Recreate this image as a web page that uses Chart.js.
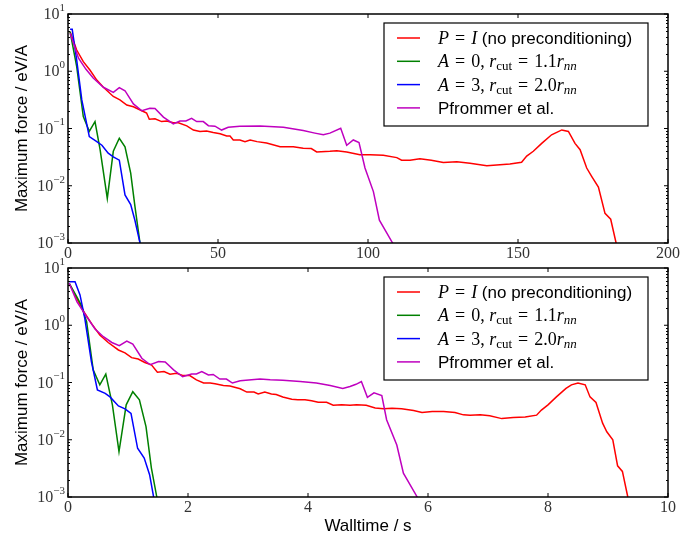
<!DOCTYPE html>
<html>
<head>
<meta charset="utf-8">
<script src="https://cdn.jsdelivr.net/npm/chart.js@4.4.1/dist/chart.umd.min.js"></script>
<style>
  body { margin: 0; background: white; }
  #wrap { position: relative; width: 693px; height: 535px; }
  #wrap canvas { position: absolute; left: 0; top: 0; }
</style>
</head>
<body>
<div id="wrap">
  <canvas id="top" width="693" height="535"></canvas>
  <canvas id="bottom" width="693" height="535"></canvas>
</div>
<script>
// top panel: walltime in arbitrary units 0..200
const topRedX = [0.7, 2.9, 5.1, 7.3, 9.6, 11.8, 15.1, 17.3, 19.6, 21.8, 24.6, 26.2, 27.1, 29, 31.2, 32.9, 35.1, 36.8, 39.6, 41.8, 44, 46.2, 48.4, 50.7, 52.9, 54, 55.1, 57.3, 59, 60.7, 63, 66.2, 70.7, 75.1, 78.4, 81.1, 82.9, 87.3, 89.6, 92.9, 97.3, 100.7, 105.1, 109.6, 111.2, 114, 117.3, 121.1, 125.1, 129.6, 134, 139.6, 147.3, 151.2, 152.9, 155.1, 157.9, 161.2, 164.6, 166.8, 169, 170.7, 172.9, 174.6, 176.8, 179, 180.9, 182.7, 183.5];
const topRedY = [4.9, 2.35, 1.47, 1.05, 0.70, 0.525, 0.363, 0.316, 0.257, 0.24, 0.204, 0.186, 0.145, 0.148, 0.132, 0.135, 0.126, 0.126, 0.111, 0.094, 0.089, 0.090, 0.085, 0.081, 0.074, 0.074, 0.063, 0.063, 0.059, 0.063, 0.059, 0.056, 0.048, 0.048, 0.045, 0.0447, 0.039, 0.040, 0.041, 0.039, 0.0347, 0.0347, 0.034, 0.031, 0.028, 0.028, 0.0295, 0.028, 0.0254, 0.0263, 0.0248, 0.0224, 0.024, 0.0257, 0.033, 0.040, 0.055, 0.0776, 0.0944, 0.089, 0.055, 0.0427, 0.0204, 0.0145, 0.0095, 0.0033, 0.0026, 0.001, 0.0006];
const topGreenX = [0.7, 2.9, 5.1, 7.1, 9, 10.7, 13.1, 15.1, 17.1, 19, 20.9, 22.3, 24, 24.6];
const topGreenY = [4.9, 1.2, 0.162, 0.089, 0.132, 0.0427, 0.006, 0.040, 0.0676, 0.048, 0.0166, 0.0044, 0.001, 0.0006];
const topBlueX = [0.7, 1.4, 2.9, 4.6, 7.1, 9.6, 11.3, 13.4, 15.1, 17.1, 19, 20.9, 22.3, 24, 24.5];
const topBlueY = [5.4, 5.4, 1.57, 0.316, 0.072, 0.059, 0.051, 0.037, 0.032, 0.028, 0.0069, 0.0047, 0.0025, 0.001, 0.0006];
const topMagX = [0.7, 3.5, 6, 8.4, 11.8, 15.1, 17.1, 19, 21.8, 24.6, 27.3, 29, 31.8, 35.1, 37.3, 39.3, 41.2, 42.9, 45.1, 46.8, 49, 51.2, 53.4, 57.3, 64, 71.8, 78.4, 82.3, 85.1, 87.3, 90.9, 92.9, 95.1, 97, 99, 101.8, 103.8, 108.2, 109];
const topMagY = [4.6, 1.69, 1.08, 0.76, 0.525, 0.427, 0.519, 0.457, 0.269, 0.204, 0.226, 0.224, 0.158, 0.12, 0.135, 0.135, 0.151, 0.132, 0.132, 0.112, 0.11, 0.094, 0.105, 0.11, 0.111, 0.105, 0.092, 0.083, 0.0776, 0.083, 0.101, 0.051, 0.063, 0.057, 0.0204, 0.0079, 0.0025, 0.001, 0.0008];

// bottom panel: walltime in seconds 0..10
const botRedX = [0.02, 0.145, 0.28, 0.39, 0.53, 0.67, 0.84, 0.95, 1.06, 1.17, 1.28, 1.39, 1.49, 1.6, 1.7, 1.81, 1.92, 2.03, 2.14, 2.26, 2.37, 2.45, 2.59, 2.7, 2.87, 2.98, 3.1, 3.17, 3.28, 3.39, 3.47, 3.58, 3.73, 3.83, 3.95, 4.06, 4.17, 4.31, 4.42, 4.56, 4.7, 4.81, 4.97, 5.12, 5.26, 5.4, 5.56, 5.76, 5.9, 6.07, 6.26, 6.45, 6.59, 6.7, 6.87, 7.03, 7.23, 7.42, 7.62, 7.81, 7.89, 8.0, 8.14, 8.3, 8.39, 8.5, 8.62, 8.7, 8.8, 8.91, 8.98, 9.08, 9.16, 9.24, 9.33, 9.38];
const botRedY = [5.4, 2.95, 1.62, 1.08, 0.676, 0.50, 0.37, 0.33, 0.272, 0.257, 0.224, 0.204, 0.151, 0.155, 0.14, 0.145, 0.132, 0.132, 0.111, 0.098, 0.098, 0.095, 0.089, 0.087, 0.0776, 0.068, 0.068, 0.063, 0.068, 0.063, 0.0617, 0.056, 0.051, 0.050, 0.050, 0.048, 0.045, 0.045, 0.040, 0.041, 0.040, 0.041, 0.040, 0.036, 0.0347, 0.0355, 0.0347, 0.0324, 0.030, 0.031, 0.031, 0.030, 0.0272, 0.0269, 0.0272, 0.0263, 0.0234, 0.0245, 0.025, 0.0269, 0.033, 0.0407, 0.056, 0.079, 0.091, 0.098, 0.091, 0.056, 0.0447, 0.0195, 0.0138, 0.010, 0.0035, 0.0028, 0.001, 0.0006];
const botGreenX = [0.02, 0.145, 0.22, 0.31, 0.42, 0.53, 0.63, 0.74, 0.85, 0.97, 1.08, 1.19, 1.3, 1.39, 1.48, 1.5];
const botGreenY = [5.4, 3.16, 2.26, 1.16, 0.166, 0.091, 0.14, 0.0407, 0.0062, 0.0407, 0.069, 0.050, 0.017, 0.0032, 0.001, 0.0007];
const botBlueX = [0.02, 0.117, 0.2, 0.28, 0.39, 0.49, 0.62, 0.7, 0.84, 0.95, 1.05, 1.16, 1.27, 1.36, 1.42, 1.45];
const botBlueY = [5.75, 5.75, 3.39, 1.32, 0.232, 0.074, 0.0646, 0.056, 0.039, 0.0347, 0.0288, 0.0071, 0.0048, 0.00245, 0.0011, 0.0007];
const botMagX = [0.02, 0.15, 0.31, 0.45, 0.59, 0.73, 0.855, 0.98, 1.08, 1.23, 1.37, 1.51, 1.62, 1.76, 1.91, 2.06, 2.14, 2.23, 2.34, 2.42, 2.53, 2.64, 2.74, 2.87, 3.2, 3.37, 3.58, 3.87, 4.14, 4.37, 4.58, 4.7, 4.8, 4.89, 4.99, 5.1, 5.23, 5.31, 5.48, 5.59, 5.82, 5.86];
const botMagY = [5.4, 2.57, 1.41, 0.86, 0.63, 0.50, 0.44, 0.53, 0.468, 0.265, 0.204, 0.232, 0.229, 0.166, 0.126, 0.141, 0.141, 0.155, 0.135, 0.138, 0.115, 0.115, 0.098, 0.107, 0.115, 0.112, 0.11, 0.104, 0.098, 0.089, 0.079, 0.085, 0.093, 0.104, 0.055, 0.066, 0.059, 0.0224, 0.0081, 0.0026, 0.001, 0.0008];

const topXTicks = [0, 50, 100, 150, 200];
const botXTicks = [0, 2, 4, 6, 8, 10];
const yTicks = [1e-3, 1e-2, 1e-1, 1e0, 1e1];

const seriesColors = ['#ff0000', '#008000', '#0000ff', '#bf00bf'];
const seriesLabels = ['P = I (no preconditioning)', 'A = 0, r_cut = 1.1r_nn', 'A = 3, r_cut = 2.0r_nn', 'Pfrommer et al.'];
// legend text pieces: i = math italic, r = roman, s = sans, eq = spaced "=", bi/br = subscript
const legendParts = [
  [['P', 'i'], ['=', 'eq'], ['I', 'i'], [' (no preconditioning)', 's']],
  [['A', 'i'], ['=', 'eq'], ['0, ', 'r'], ['r', 'i'], ['cut', 'br'], ['=', 'eq'], ['1.1', 'r'], ['r', 'i'], ['nn', 'bi']],
  [['A', 'i'], ['=', 'eq'], ['3, ', 'r'], ['r', 'i'], ['cut', 'br'], ['=', 'eq'], ['2.0', 'r'], ['r', 'i'], ['nn', 'bi']],
  [['Pfrommer et al.', 's']]
];
const yTitle = 'Maximum force / eV/A';
const xTitle = 'Walltime / s';

const SERIF = '"Liberation Serif", "DejaVu Serif", serif';
const SANS = '"Liberation Sans", Arial, sans-serif';

function drawRich(ctx, parts, x, y) {
  for (const [txt, kind] of parts) {
    let dy = 0, pad = 0;
    if (kind === 'i') ctx.font = 'italic 18px ' + SERIF;
    else if (kind === 'r') ctx.font = '18px ' + SERIF;
    else if (kind === 'eq') { ctx.font = '18px ' + SERIF; pad = 6; }
    else if (kind === 's') ctx.font = '17px ' + SANS;
    else if (kind === 'bi') { ctx.font = 'italic 13px ' + SERIF; dy = 3; }
    else { ctx.font = '13px ' + SERIF; dy = 3; }
    x += pad;
    ctx.fillText(txt, x, y + dy);
    x += ctx.measureText(txt).width + pad;
  }
}

const framePlugin = {
  id: 'frame',
  afterDatasetsDraw(chart, args, opts) {
    const { ctx, chartArea: a } = chart;
    const xs = chart.scales.x, ys = chart.scales.y;
    ctx.save();
    ctx.strokeStyle = '#000';
    ctx.fillStyle = '#000';
    ctx.lineWidth = 1;

    // y ticks, major and minor, inside on both sides
    ctx.beginPath();
    yTicks.forEach((v, k) => {
      const py = ys.getPixelForValue(v);
      ctx.moveTo(a.left, py); ctx.lineTo(a.left + 4, py);
      ctx.moveTo(a.right, py); ctx.lineTo(a.right - 4, py);
      if (k < yTicks.length - 1) {
        for (let m = 2; m <= 9; m++) {
          const pm = Math.round(ys.getPixelForValue(v * m)) + 0.5;
          ctx.moveTo(a.left, pm); ctx.lineTo(a.left + 2, pm);
          ctx.moveTo(a.right, pm); ctx.lineTo(a.right - 2, pm);
        }
      }
    });
    opts.xTicks.forEach(v => {
      const px = xs.getPixelForValue(v);
      ctx.moveTo(px, a.bottom); ctx.lineTo(px, a.bottom - 4);
      ctx.moveTo(px, a.top); ctx.lineTo(px, a.top + 4);
    });
    ctx.stroke();

    ctx.lineWidth = 1.5;
    ctx.strokeRect(a.left, a.top, a.right - a.left, a.bottom - a.top);

    // y tick labels 10^n
    ctx.textAlign = 'right';
    ctx.textBaseline = 'middle';
    ctx.fillStyle = '#333';
    yTicks.forEach(v => {
      const py = ys.getPixelForValue(v);
      const ex = String(Math.round(Math.log10(v))).replace('-', '\u2212');
      ctx.font = '11px ' + SERIF;
      const ew = ctx.measureText(ex).width;
      ctx.fillText(ex, a.left - 3, py - 6);
      ctx.font = '16px ' + SERIF;
      ctx.fillText('10', a.left - 3 - ew, py + 1);
    });
    // x tick labels
    ctx.textAlign = 'center';
    ctx.font = '16px ' + SERIF;
    opts.xTicks.forEach(v => {
      ctx.fillText(String(v), xs.getPixelForValue(v), a.bottom + 11);
    });

    // titles
    ctx.fillStyle = '#000';
    ctx.font = '17px ' + SANS;
    ctx.save();
    ctx.translate(22, (a.top + a.bottom) / 2);
    ctx.rotate(-Math.PI / 2);
    ctx.fillText(yTitle, 0, 0);
    ctx.restore();
    if (opts.xTitle) ctx.fillText(opts.xTitle, (a.left + a.right) / 2, a.bottom + 29);

    // legend
    const lx = a.right - 284, ly = a.top + 9;
    ctx.fillStyle = '#fff';
    ctx.fillRect(lx, ly, 264, 103);
    ctx.lineWidth = 1.2;
    ctx.strokeStyle = '#000';
    ctx.strokeRect(lx, ly, 264, 103);
    ctx.textAlign = 'left';
    ctx.textBaseline = 'alphabetic';
    chart.data.datasets.forEach((ds, i) => {
      const ry = ly + 15 + i * 23.3;
      ctx.strokeStyle = ds.borderColor;
      ctx.lineWidth = 1.5;
      ctx.beginPath();
      ctx.moveTo(lx + 13, ry); ctx.lineTo(lx + 36, ry);
      ctx.stroke();
      ctx.fillStyle = '#000';
      drawRich(ctx, legendParts[i], lx + 54, ry + 6);
    });
    ctx.restore();
  }
};

function makeChart(id, xsArr, ysArr, xMax, xTicks, padding, xt) {
  return new Chart(document.getElementById(id), {
    type: 'line',
    data: {
      datasets: xsArr.map((xa, i) => ({
        label: seriesLabels[i],
        data: xa.map((xv, j) => ({ x: xv, y: ysArr[i][j] })),
        borderColor: seriesColors[i],
        borderWidth: 1.5,
        pointRadius: 0,
        tension: 0,
        fill: false,
        order: 3 - i
      }))
    },
    options: {
      responsive: false,
      animation: false,
      devicePixelRatio: 1,
      layout: { padding },
      scales: {
        x: { type: 'linear', min: 0, max: xMax, display: false },
        y: { type: 'logarithmic', min: 1e-3, max: 10, display: false }
      },
      plugins: {
        legend: { display: false },
        tooltip: { enabled: false },
        frame: { xTicks, xTitle: xt }
      }
    },
    plugins: [framePlugin]
  });
}

makeChart('top',
  [topRedX, topGreenX, topBlueX, topMagX],
  [topRedY, topGreenY, topBlueY, topMagY],
  200, topXTicks, { left: 68, right: 25, top: 14, bottom: 292 }, null);
makeChart('bottom',
  [botRedX, botGreenX, botBlueX, botMagX],
  [botRedY, botGreenY, botBlueY, botMagY],
  10, botXTicks, { left: 68, right: 25, top: 268, bottom: 38 }, xTitle);
</script>
</body>
</html>
